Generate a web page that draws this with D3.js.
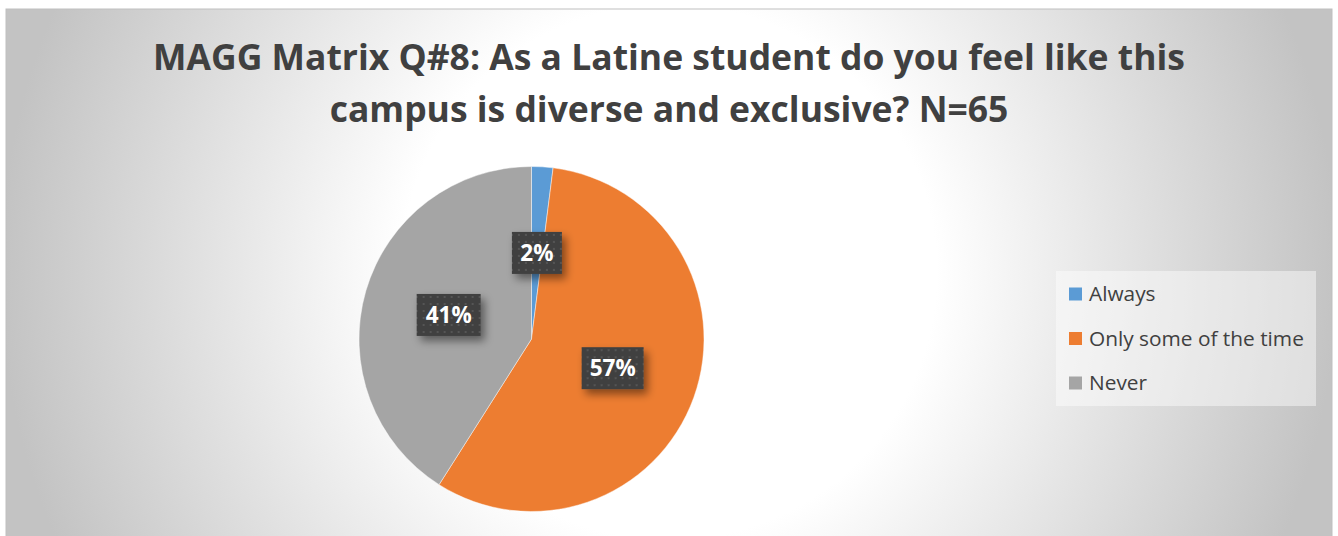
<!DOCTYPE html>
<html>
<head>
<meta charset="utf-8">
<script src="https://cdn.jsdelivr.net/npm/d3@7"></script>
<style>
  html, body { margin: 0; padding: 0; background: #ffffff; }
  svg { display: block; }
</style>
</head>
<body>
<svg id="chart" width="1338" height="536"></svg>
<script>
// Survey responses (percent of N=65)
const categories = ["Always", "Only some of the time", "Never"];
const values = [2, 57, 41];
const labels = ["2%", "57%", "41%"];
const colors = ["#5b9bd5", "#ed7d31", "#a5a5a5"];
const titleLines = [
  "MAGG Matrix Q#8: As a Latine student do you feel like this",
  "campus is diverse and exclusive? N=65"
];

const W = 1338, H = 536;
const frame = { x: 6, y: 9, w: 1326, h: 540 };
const svg = d3.select("#chart");
const defs = svg.append("defs");

// Radial background fill of the chart area
const bg = defs.append("radialGradient")
  .attr("id", "bgGrad")
  .attr("gradientUnits", "userSpaceOnUse")
  .attr("cx", frame.x + frame.w / 2).attr("cy", 272)
  .attr("r", 669);
bg.append("stop").attr("offset", 0).attr("stop-color", "#ffffff");
bg.append("stop").attr("offset", 0.4).attr("stop-color", "#ffffff");
bg.append("stop").attr("offset", 1).attr("stop-color", "#c3c3c3");

// Dotted fill for the data label boxes
const pat = defs.append("pattern")
  .attr("id", "dots")
  .attr("patternUnits", "userSpaceOnUse")
  .attr("width", 7).attr("height", 7);
pat.append("rect").attr("width", 7).attr("height", 7).attr("fill", "#404040");
pat.append("rect").attr("x", 2).attr("y", 2).attr("width", 2).attr("height", 2).attr("fill", "#555555");

// Soft drop shadow behind label boxes
const sh = defs.append("filter").attr("id", "shadow")
  .attr("x", "-30%").attr("y", "-30%").attr("width", "170%").attr("height", "180%");
sh.append("feDropShadow")
  .attr("dx", 4).attr("dy", 5).attr("stdDeviation", 4)
  .attr("flood-color", "#000").attr("flood-opacity", 0.45);

svg.append("rect")
  .attr("x", frame.x).attr("y", frame.y)
  .attr("width", frame.w).attr("height", frame.h)
  .attr("fill", "url(#bgGrad)")
  .attr("stroke", "#bfbfbf").attr("stroke-width", 1);

// Title
const titleFont = "'Open Sans', 'DejaVu Sans', sans-serif";
const title = svg.append("g");
const t1 = title.append("text")
  .attr("x", 669).attr("y", 69.5)
  .attr("text-anchor", "middle")
  .attr("font-family", titleFont).attr("font-weight", 700)
  .attr("font-size", 36).attr("fill", "#404040")
  .text(titleLines[0]);
const fs = 36 * 1032 / t1.node().getComputedTextLength();
t1.attr("font-size", fs);
title.append("text")
  .attr("x", 669).attr("y", 121.5)
  .attr("text-anchor", "middle")
  .attr("font-family", titleFont).attr("font-weight", 700)
  .attr("font-size", fs).attr("fill", "#404040")
  .text(titleLines[1]);

// Pie
const cx = 531.5, cy = 339, R = 172.5;
const pie = d3.pie().sort(null).value(d => d)(values);
const arc = d3.arc().innerRadius(0).outerRadius(R);
const g = svg.append("g").attr("transform", `translate(${cx},${cy})`);

g.selectAll("path.slice")
  .data(pie)
  .join("path")
  .attr("class", "slice")
  .attr("d", arc)
  .attr("fill", (d, i) => colors[i])
  .attr("stroke", "#ffffff")
  .attr("stroke-opacity", 0.6)
  .attr("stroke-width", 0.75);

// Data labels: dark patterned boxes at slice centroids
const labelArc = d3.arc().innerRadius(0).outerRadius(R);
const boxW = [50, 62, 64], boxH = 42;
const lab = g.selectAll("g.lbl")
  .data(pie)
  .join("g")
  .attr("class", "lbl")
  .attr("transform", d => {
    const [x, y] = labelArc.centroid(d);
    return `translate(${x},${y})`;
  });
lab.append("rect")
  .attr("x", (d, i) => -boxW[i] / 2).attr("y", -boxH / 2)
  .attr("width", (d, i) => boxW[i]).attr("height", boxH)
  .attr("fill", "url(#dots)")
  .attr("filter", "url(#shadow)");
lab.append("text")
  .attr("text-anchor", "middle")
  .attr("dy", "0.36em")
  .attr("font-family", titleFont).attr("font-weight", 700)
  .attr("font-size", 22.5).attr("fill", "#ffffff")
  .text((d, i) => labels[i]);

// Legend
const legend = svg.append("g");
legend.append("rect")
  .attr("x", 1056).attr("y", 271)
  .attr("width", 260).attr("height", 135)
  .attr("fill", "#ffffff").attr("fill-opacity", 0.45);
const legY = d3.scalePoint().domain(categories).range([294, 383]);
const items = legend.selectAll("g.item")
  .data(categories)
  .join("g")
  .attr("class", "item")
  .attr("transform", d => `translate(1069,${legY(d)})`);
items.append("rect")
  .attr("x", 0).attr("y", -6.5)
  .attr("width", 13).attr("height", 13)
  .attr("fill", (d, i) => colors[i]);
const legText = items.append("text")
  .attr("x", 20).attr("dy", "0.35em")
  .attr("font-family", titleFont)
  .attr("font-size", 18).attr("fill", "#404040")
  .text(d => d);
const lw = legText.nodes()[1].getComputedTextLength();
legText.attr("font-size", 18 * 215 / lw);
</script>
</body>
</html>
